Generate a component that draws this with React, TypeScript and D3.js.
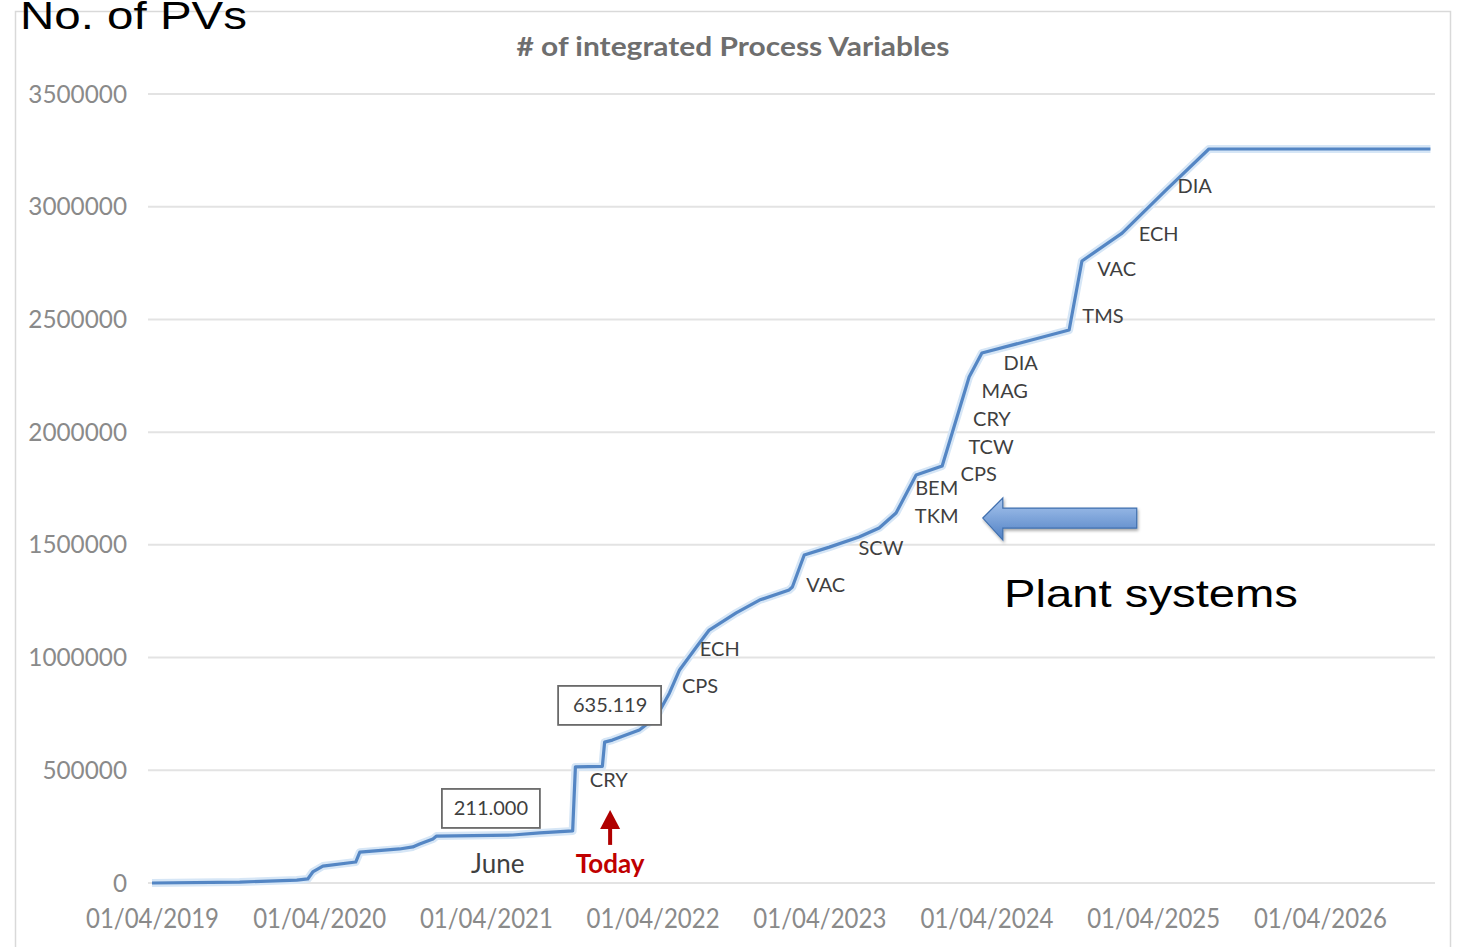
import React, { useEffect, useRef } from 'react';
import * as d3 from 'd3';

// cumulative integrated PVs
const pvDates = [
  '2019-04-01', '2019-10-10', '2020-02-12', '2020-03-07', '2020-03-18', '2020-04-09',
  '2020-06-20', '2020-06-29', '2020-09-24', '2020-10-23', '2020-11-07', '2020-12-06',
  '2020-12-14', '2021-05-30', '2021-07-28', '2021-10-08', '2021-10-14', '2021-12-12',
  '2021-12-17', '2022-01-03', '2022-03-03', '2022-04-09', '2022-05-08', '2022-05-30',
  '2022-07-06', '2022-08-03', '2022-10-01', '2022-11-21', '2023-01-25', '2023-02-01',
  '2023-02-27', '2023-04-23', '2023-06-27', '2023-08-10', '2023-09-16', '2023-10-30',
  '2023-12-26', '2024-02-23', '2024-03-22', '2024-09-29', '2024-10-27', '2025-01-23',
  '2025-04-29', '2025-08-01', '2026-11-29'
];
const pvCounts = [
  0, 4000, 13000, 18000, 49000, 75000,
  93000, 137000, 151000, 160000, 173000, 195000,
  208000, 213000, 222000, 231000, 515000, 517000,
  625000, 634000, 679000, 736000, 843000, 945000,
  1047000, 1122000, 1198000, 1255000, 1300000, 1313000,
  1455000, 1490000, 1535000, 1575000, 1641000, 1810000,
  1850000, 2245000, 2351000, 2453000, 2759000, 2883000,
  3074000, 3256000, 3256000
];

// plant system labels along the curve
const systemNames = ['CRY', 'CPS', 'ECH', 'VAC', 'SCW', 'TKM', 'BEM', 'CPS', 'TCW', 'CRY', 'MAG', 'DIA', 'TMS', 'VAC', 'ECH', 'DIA'];
const systemDates = [
  '2021-12-26', '2022-07-14', '2022-08-26', '2023-04-15', '2023-08-14', '2023-12-14',
  '2023-12-14', '2024-03-15', '2024-04-11', '2024-04-13', '2024-05-11', '2024-06-15',
  '2024-12-12', '2025-01-11', '2025-04-13', '2025-07-01'
];
const systemValues = [
  457000, 874000, 1038000, 1322000, 1486000, 1628000,
  1752000, 1814000, 1934000, 2058000, 2183000, 2307000,
  2515000, 2724000, 2879000, 3092000
];

// boxed milestones
const milestoneTexts = ['211.000', '635.119'];
const milestoneDates = ['2021-04-12', '2021-12-29'];
const milestoneValues = [333000, 790000];

const yTicks = [0, 500000, 1000000, 1500000, 2000000, 2500000, 3000000, 3500000];
const xTicks = ['2019-04-01', '2020-04-01', '2021-04-01', '2022-04-01', '2023-04-01', '2024-04-01', '2025-04-01', '2026-04-01'];

const parse = d3.timeParse('%Y-%m-%d');

export default function App() {
  const svgRef = useRef<SVGSVGElement>(null);

  useEffect(() => {
    if (!svgRef.current) return;
    const svg = d3.select(svgRef.current);
    svg.selectAll('*').remove();

    const font = 'Lato, "Open Sans", sans-serif';
    const arial = '"Liberation Sans", Arial, sans-serif';

    const x = d3.scaleTime()
      .domain([parse('2019-04-01')!, parse('2026-12-09')!])
      .range([152, 1435]);
    const y = d3.scaleLinear()
      .domain([0, 3500000])
      .range([883, 94]);

    // defs
    const defs = svg.append('defs');
    const grad = defs.append('linearGradient')
      .attr('id', 'arrow-grad')
      .attr('x1', '0%').attr('x2', '0%').attr('y1', '0%').attr('y2', '100%');
    grad.append('stop').attr('offset', '0%').attr('stop-color', '#a9c6ee');
    grad.append('stop').attr('offset', '100%').attr('stop-color', '#4f80c4');
    const shadow = defs.append('filter').attr('id', 'shadow').attr('x', '-20%').attr('y', '-40%').attr('width', '150%').attr('height', '200%');
    shadow.append('feDropShadow')
      .attr('dx', 1).attr('dy', 2).attr('stdDeviation', 1.5)
      .attr('flood-color', '#000').attr('flood-opacity', 0.35);

    svg.append('rect')
      .attr('width', 1460).attr('height', 947)
      .attr('fill', '#fff');

    // chart frame
    svg.append('rect')
      .attr('x', 15.5).attr('y', 11.5)
      .attr('width', 1435).attr('height', 950)
      .attr('fill', 'none')
      .attr('stroke', '#d9d9d9')
      .attr('stroke-width', 1.5);

    // gridlines
    svg.append('g')
      .selectAll('line')
      .data(yTicks)
      .enter()
      .append('line')
      .attr('x1', 148).attr('x2', 1435)
      .attr('y1', d => y(d)).attr('y2', d => y(d))
      .attr('stroke', '#e3e3e3')
      .attr('stroke-width', 2);

    // y axis
    const yAxis = svg.append('g')
      .attr('transform', 'translate(148,0)')
      .call(d3.axisLeft(y).tickValues(yTicks).tickSize(0).tickPadding(21).tickFormat(d3.format('d')));
    yAxis.select('.domain').remove();
    yAxis.selectAll('text')
      .attr('fill', '#8a8a8a')
      .style('font-family', font)
      .style('font-size', '25px')
      .attr('textLength', (d: any) => String(d).length * 14.1)
      .attr('lengthAdjust', 'spacingAndGlyphs');

    // x axis
    const xAxis = svg.append('g')
      .attr('transform', `translate(0,${y(0)})`)
      .call(d3.axisBottom(x)
        .tickValues(xTicks.map(d => parse(d)!))
        .tickSize(0)
        .tickPadding(27)
        .tickFormat(d => d3.timeFormat('%d/%m/%Y')(d as Date)));
    xAxis.select('.domain').remove();
    xAxis.selectAll('text')
      .attr('fill', '#8a8a8a')
      .style('font-family', font)
      .style('font-size', '26px')
      .attr('textLength', 133)
      .attr('lengthAdjust', 'spacingAndGlyphs');

    // title
    svg.append('text')
      .attr('x', 733).attr('y', 56)
      .attr('text-anchor', 'middle')
      .attr('fill', '#6e6e6e')
      .style('font-family', font)
      .style('font-size', '26px')
      .style('font-weight', 'bold')
      .attr('textLength', 433)
      .attr('lengthAdjust', 'spacingAndGlyphs')
      .text('# of integrated Process Variables');

    // line
    const points = pvDates.map((d, i) => ({ date: parse(d)!, value: pvCounts[i] }));
    const line = d3.line<{ date: Date; value: number }>()
      .x(d => x(d.date))
      .y(d => y(d.value));

    svg.append('path')
      .datum(points)
      .attr('d', line)
      .attr('fill', 'none')
      .attr('stroke', '#d6e6f6')
      .attr('stroke-width', 8)
      .attr('stroke-linejoin', 'round');
    svg.append('path')
      .datum(points)
      .attr('d', line)
      .attr('fill', 'none')
      .attr('stroke', '#5486c4')
      .attr('stroke-width', 3.2)
      .attr('stroke-linejoin', 'round');

    // system labels
    svg.append('g')
      .selectAll('text')
      .data(systemNames)
      .enter()
      .append('text')
      .attr('x', (d, i) => x(parse(systemDates[i])!))
      .attr('y', (d, i) => y(systemValues[i]))
      .attr('dy', '0.35em')
      .attr('text-anchor', 'middle')
      .attr('fill', '#3f3f3f')
      .style('font-family', font)
      .style('font-size', '20px')
      .text(d => d);

    // boxed milestones
    const boxes = svg.append('g')
      .selectAll('g')
      .data(milestoneTexts)
      .enter()
      .append('g')
      .attr('transform', (d, i) => `translate(${x(parse(milestoneDates[i])!)},${y(milestoneValues[i])})`);
    boxes.append('rect')
      .attr('x', (d, i) => (i === 0 ? -49 : -52))
      .attr('y', -19)
      .attr('width', (d, i) => (i === 0 ? 98 : 103))
      .attr('height', 39)
      .attr('fill', '#fff')
      .attr('stroke', '#6a6a6a')
      .attr('stroke-width', 1.8);
    boxes.append('text')
      .attr('text-anchor', 'middle')
      .attr('dy', '0.35em')
      .attr('fill', '#3f3f3f')
      .style('font-family', font)
      .style('font-size', '20px')
      .text(d => d);

    // June / Today
    const todayX = x(parse('2021-12-29')!);
    svg.append('text')
      .attr('x', x(parse('2021-04-27')!))
      .attr('y', y(84000))
      .attr('dy', '0.35em')
      .attr('text-anchor', 'middle')
      .attr('fill', '#3f3f3f')
      .style('font-family', font)
      .style('font-size', '26px')
      .text('June');
    svg.append('text')
      .attr('x', todayX)
      .attr('y', y(84000))
      .attr('dy', '0.35em')
      .attr('text-anchor', 'middle')
      .attr('fill', '#c00000')
      .style('font-family', font)
      .style('font-size', '26px')
      .style('font-weight', 'bold')
      .text('Today');

    // red arrow
    const tipY = y(324000);
    const baseY = y(169000);
    svg.append('line')
      .attr('x1', todayX).attr('x2', todayX)
      .attr('y1', baseY).attr('y2', tipY + 14)
      .attr('stroke', '#b00000')
      .attr('stroke-width', 4);
    svg.append('path')
      .attr('d', `M${todayX},${tipY} L${todayX - 10},${tipY + 19} L${todayX + 10},${tipY + 19} Z`)
      .attr('fill', '#b00000');

    // plant systems block arrow
    const ax = x(parse('2024-03-24')!);
    const ay = y(1619000);
    const tail = x(parse('2025-02-24')!);
    svg.append('path')
      .attr('d', `M${ax},${ay} L${ax + 20},${ay - 20} L${ax + 20},${ay - 10} L${tail},${ay - 10} L${tail},${ay + 10} L${ax + 20},${ay + 10} L${ax + 20},${ay + 22} Z`)
      .attr('fill', 'url(#arrow-grad)')
      .attr('stroke', '#3f6fae')
      .attr('stroke-width', 1.2)
      .attr('filter', 'url(#shadow)');

    // slide text
    svg.append('text')
      .attr('x', 20).attr('y', 29)
      .attr('fill', '#000')
      .style('font-family', arial)
      .style('font-size', '38px')
      .attr('textLength', 227)
      .attr('lengthAdjust', 'spacingAndGlyphs')
      .text('No. of PVs');
    svg.append('text')
      .attr('x', 1004).attr('y', 607)
      .attr('fill', '#000')
      .style('font-family', arial)
      .style('font-size', '39px')
      .attr('textLength', 294)
      .attr('lengthAdjust', 'spacingAndGlyphs')
      .text('Plant systems');
  }, []);

  return (
    <svg
      ref={svgRef}
      width={1460}
      height={947}
      style={{ position: 'absolute', left: 0, top: 0, display: 'block' }}
    />
  );
}
